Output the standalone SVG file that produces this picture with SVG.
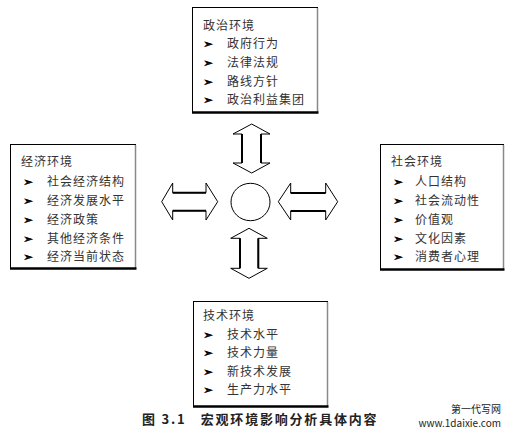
<svg xmlns="http://www.w3.org/2000/svg" width="513" height="446" viewBox="0 0 513 446">
<style>
.box{fill:#fff;stroke:#000;stroke-width:1}
.bot{stroke:#000;stroke-width:2.5}
.side{stroke:#888;stroke-width:1.5}
.t{font-family:"Noto Sans CJK SC",sans-serif;font-size:12px;fill:#333;letter-spacing:1px}
.b{font-family:"DejaVu Sans",sans-serif;font-size:12px;font-weight:bold;fill:#000;stroke:#000;stroke-width:0.4}
.arr{fill:#fff;stroke:#000;stroke-width:1}
.sh{stroke:#000;stroke-width:2}
.cap{font-family:"Noto Sans CJK SC",sans-serif;font-size:13px;fill:#222;font-weight:bold;letter-spacing:1.8px}
.wm{font-family:"Noto Sans CJK SC",sans-serif;font-size:10px;fill:#222}
</style>
<rect width="513" height="446" fill="#fff"/>
<g id="politics">
<rect class="box" x="192.5" y="7.5" width="125" height="105"/>
<line class="side" x1="317.5" y1="8" x2="317.5" y2="112"/>
<line class="bot" x1="192" y1="112.5" x2="318.5" y2="112.5"/>
<text class="t" x="203" y="30">政治环境</text>
<text class="b" x="203" y="48">➢</text><text class="t" x="227" y="48">政府行为</text>
<text class="b" x="203" y="67">➢</text><text class="t" x="227" y="67">法律法规</text>
<text class="b" x="203" y="86">➢</text><text class="t" x="227" y="86">路线方针</text>
<text class="b" x="203" y="104">➢</text><text class="t" x="227" y="104">政治利益集团</text>
</g>
<g id="economy">
<rect class="box" x="10.5" y="144.5" width="125" height="124"/>
<line class="side" x1="135.5" y1="145" x2="135.5" y2="268"/>
<line class="bot" x1="10" y1="268.5" x2="136.5" y2="268.5"/>
<text class="t" x="21" y="166">经济环境</text>
<text class="b" x="23" y="186">➢</text><text class="t" x="47" y="186">社会经济结构</text>
<text class="b" x="23" y="205">➢</text><text class="t" x="47" y="205">经济发展水平</text>
<text class="b" x="23" y="224">➢</text><text class="t" x="47" y="224">经济政策</text>
<text class="b" x="23" y="243">➢</text><text class="t" x="47" y="243">其他经济条件</text>
<text class="b" x="23" y="261">➢</text><text class="t" x="47" y="261">经济当前状态</text>
</g>
<g id="society">
<rect class="box" x="380.5" y="144.5" width="123" height="125"/>
<line class="side" x1="503.5" y1="145" x2="503.5" y2="269"/>
<line class="bot" x1="380" y1="269.5" x2="504.5" y2="269.5"/>
<text class="t" x="391" y="166">社会环境</text>
<text class="b" x="393" y="186">➢</text><text class="t" x="415" y="186">人口结构</text>
<text class="b" x="393" y="205">➢</text><text class="t" x="415" y="205">社会流动性</text>
<text class="b" x="393" y="224">➢</text><text class="t" x="415" y="224">价值观</text>
<text class="b" x="393" y="243">➢</text><text class="t" x="415" y="243">文化因素</text>
<text class="b" x="393" y="261">➢</text><text class="t" x="415" y="261">消费者心理</text>
</g>
<g id="technology">
<rect class="box" x="193.5" y="301.5" width="134" height="105"/>
<line class="side" x1="327.5" y1="302" x2="327.5" y2="406"/>
<line class="bot" x1="193" y1="406.5" x2="328.5" y2="406.5"/>
<text class="t" x="203" y="320">技术环境</text>
<text class="b" x="203" y="339">➢</text><text class="t" x="227" y="339">技术水平</text>
<text class="b" x="203" y="357">➢</text><text class="t" x="227" y="357">技术力量</text>
<text class="b" x="203" y="376">➢</text><text class="t" x="227" y="376">新技术发展</text>
<text class="b" x="203" y="394">➢</text><text class="t" x="227" y="394">生产力水平</text>
</g>
<g id="center">
<ellipse cx="250.5" cy="202" rx="19.5" ry="18.7" fill="#fff" stroke="#000" stroke-width="1"/>
</g>
<g id="connectors">
<polygon class="arr" points="251.7,124 270,134 261,134 261,163 270,163 251.7,173 233,163 242,163 242,134 233,134"/>
<line class="sh" x1="242" y1="134" x2="242" y2="163"/><line class="sh" x1="261" y1="134" x2="261" y2="163"/>
<polygon class="arr" points="249,228.3 267.3,238.3 258.3,238.3 258.3,268.3 267.3,268.3 249,278.3 230.7,268.3 240,268.3 240,238.3 230.7,238.3"/>
<line class="sh" x1="240" y1="238.3" x2="240" y2="268.3"/><line class="sh" x1="258.3" y1="238.3" x2="258.3" y2="268.3"/>
<polygon class="arr" points="161.7,201.7 172.7,183 172.7,192.7 206,192.7 206,183 217.7,201.7 206,220 206,210.7 172.7,210.7 172.7,220"/>
<line class="sh" x1="172.7" y1="192.7" x2="206" y2="192.7"/><line class="sh" x1="172.7" y1="210.7" x2="206" y2="210.7"/>
<polygon class="arr" points="278.3,201.7 290.7,183 290.7,193 325.7,193 325.7,183 337.7,201.7 325.7,220 325.7,211 290.7,211 290.7,220"/>
<line class="sh" x1="290.7" y1="193" x2="325.7" y2="193"/><line class="sh" x1="290.7" y1="211" x2="325.7" y2="211"/>
</g>
<text class="cap" x="142" y="424" xml:space="preserve">图 3.1   宏观环境影响分析具体内容</text>
<text class="wm" x="501" y="413" text-anchor="end">第一代写网</text>
<text class="wm" x="501" y="427" text-anchor="end">www.1daixie.com</text>
</svg>
